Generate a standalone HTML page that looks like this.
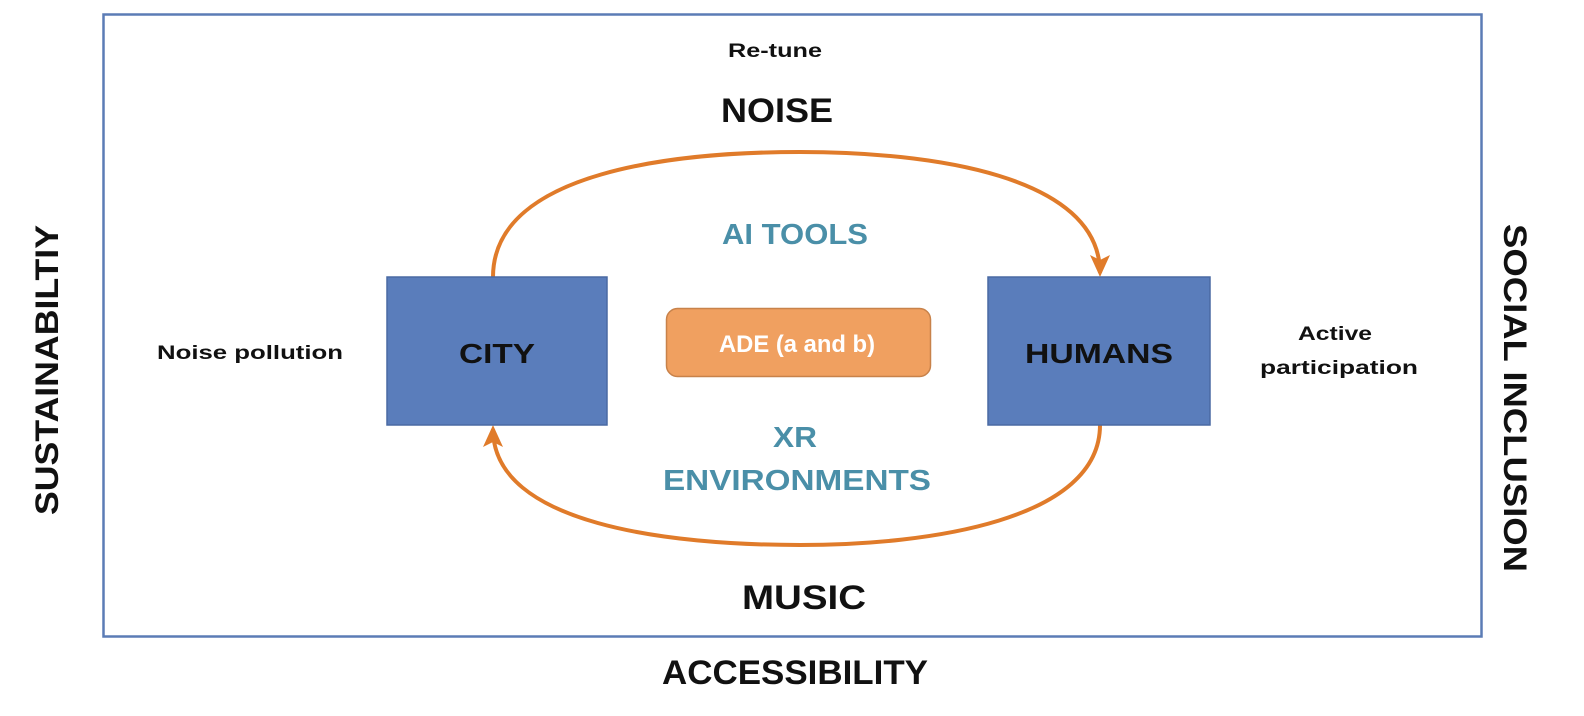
<!DOCTYPE html>
<html><head><meta charset="utf-8"><style>
html,body{margin:0;padding:0;background:#fff;width:1584px;height:716px;overflow:hidden}
svg text{font-family:"Liberation Sans",sans-serif;font-weight:bold}
</style></head><body>
<svg width="1584" height="716" viewBox="0 0 1584 716" xmlns="http://www.w3.org/2000/svg">
<defs>
<marker id="ah2" markerWidth="24" markerHeight="24" refX="18" refY="12" orient="auto" markerUnits="userSpaceOnUse" viewBox="0 0 24 24">
<path d="M0,2 L22,12 L0,22 L5,12 z" fill="#e07b2a"/></marker>
</defs>
<rect x="103.5" y="14.5" width="1378" height="622" fill="#fff" stroke="#5b7cb5" stroke-width="2.5"/>
<path d="M493,277 C493,170 680,152 800,152 C930,152 1100,175 1100,273" fill="none" stroke="#e07b2a" stroke-width="4" marker-end="url(#ah2)"/>
<path d="M1100,425 C1100,520 930,545 800,545 C670,545 493,525 493,429" fill="none" stroke="#e07b2a" stroke-width="4" marker-end="url(#ah2)"/>
<rect x="387" y="277" width="220" height="148" fill="#5a7dbb" stroke="#4a6aa3" stroke-width="1.5"/>
<rect x="988" y="277" width="222" height="148" fill="#5a7dbb" stroke="#4a6aa3" stroke-width="1.5"/>
<rect x="666.5" y="308.5" width="264" height="68" rx="11" fill="#f0a060" stroke="#c8824a" stroke-width="1.5"/>
<text x="497" y="363" text-anchor="middle" font-size="28" textLength="76" lengthAdjust="spacingAndGlyphs" fill="#111">CITY</text>
<text x="1099" y="363" text-anchor="middle" font-size="28" textLength="148" lengthAdjust="spacingAndGlyphs" fill="#111">HUMANS</text>
<text x="797" y="352" text-anchor="middle" font-size="24" textLength="156" lengthAdjust="spacingAndGlyphs" fill="#fff">ADE (a and b)</text>
<text x="795" y="244" text-anchor="middle" font-size="29" textLength="146" lengthAdjust="spacingAndGlyphs" fill="#4a8fa8">AI TOOLS</text>
<text x="795" y="447" text-anchor="middle" font-size="29" textLength="44" lengthAdjust="spacingAndGlyphs" fill="#4a8fa8">XR</text>
<text x="797" y="490" text-anchor="middle" font-size="29" textLength="268" lengthAdjust="spacingAndGlyphs" fill="#4a8fa8">ENVIRONMENTS</text>
<text x="775" y="57" text-anchor="middle" font-size="19" textLength="94" lengthAdjust="spacingAndGlyphs" fill="#111">Re-tune</text>
<text x="777" y="122" text-anchor="middle" font-size="34" textLength="112" lengthAdjust="spacingAndGlyphs" fill="#111">NOISE</text>
<text x="804" y="609" text-anchor="middle" font-size="34" textLength="124" lengthAdjust="spacingAndGlyphs" fill="#111">MUSIC</text>
<text x="795" y="684" text-anchor="middle" font-size="34" textLength="266" lengthAdjust="spacingAndGlyphs" fill="#111">ACCESSIBILITY</text>
<text x="250" y="359" text-anchor="middle" font-size="19" textLength="186" lengthAdjust="spacingAndGlyphs" fill="#111">Noise pollution</text>
<text x="1335" y="340" text-anchor="middle" font-size="19" textLength="74" lengthAdjust="spacingAndGlyphs" fill="#111">Active</text>
<text x="1339" y="374" text-anchor="middle" font-size="19" textLength="158" lengthAdjust="spacingAndGlyphs" fill="#111">participation</text>
<text transform="translate(58,370) rotate(-90)" text-anchor="middle" font-size="32" textLength="290" lengthAdjust="spacingAndGlyphs" fill="#111">SUSTAINABILTIY</text>
<text transform="translate(1504,398) rotate(90)" text-anchor="middle" font-size="32" textLength="348" lengthAdjust="spacingAndGlyphs" fill="#111">SOCIAL INCLUSION</text>
</svg>
</body></html>
